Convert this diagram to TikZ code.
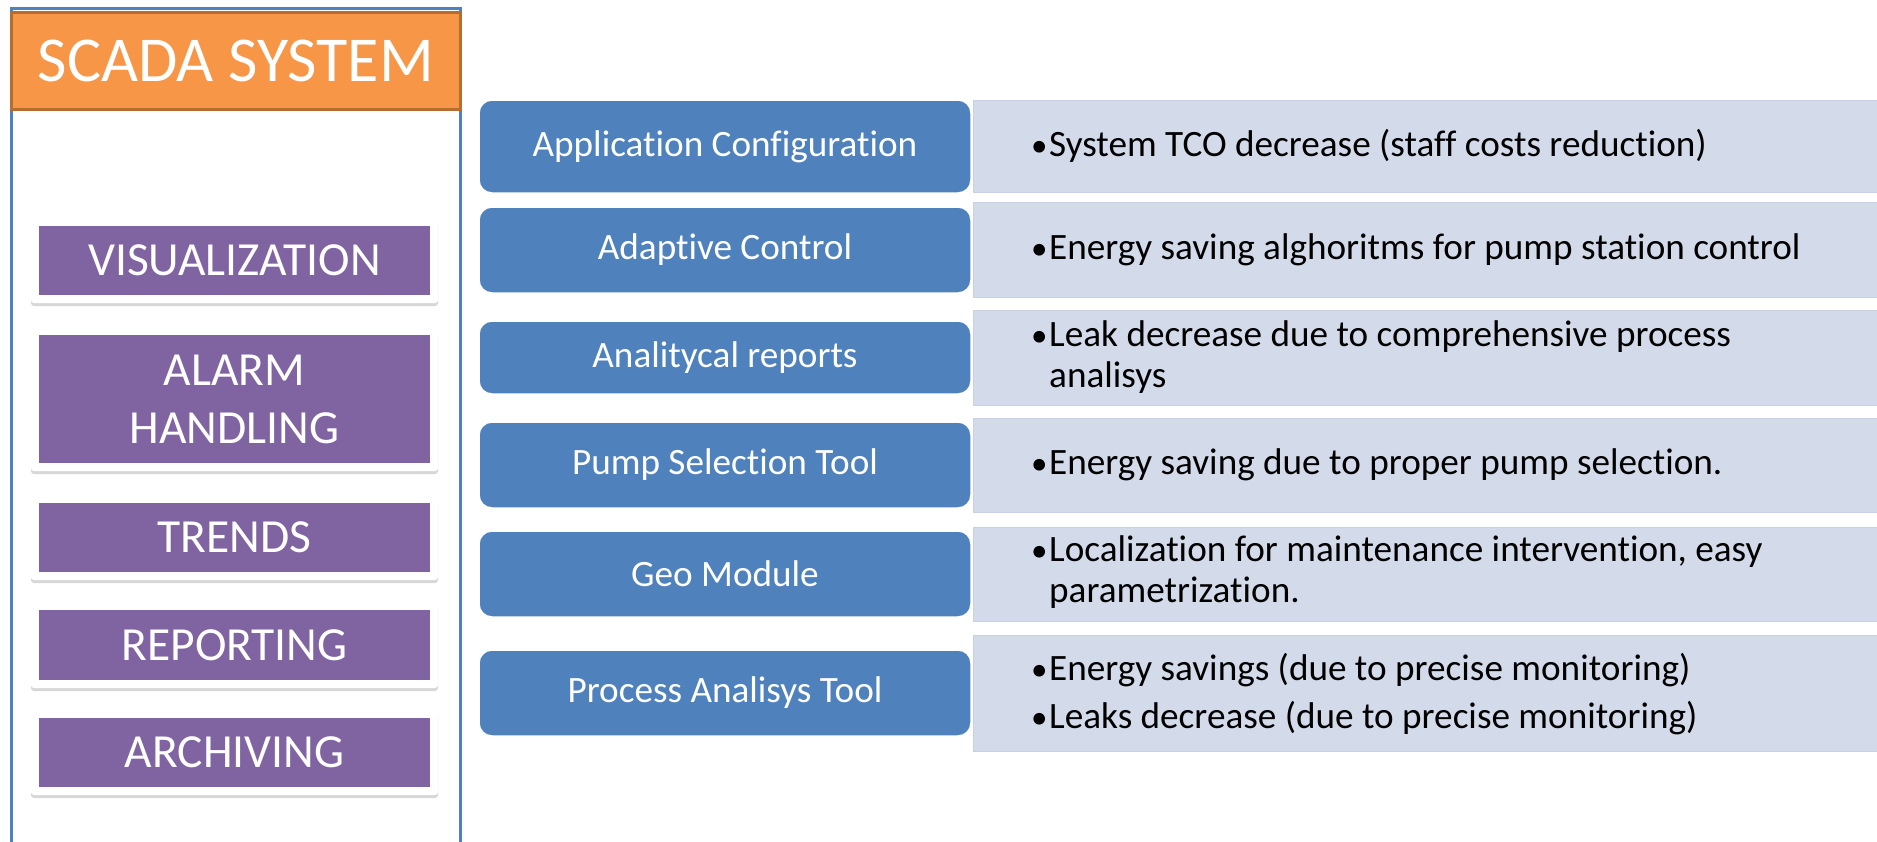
\documentclass[tikz,border=0pt]{standalone}
\usepackage{fontspec}
\setmainfont{Carlito}[Ligatures={CommonOff,ContextualOff,RequiredOff,RareOff,HistoricOff}]
\usetikzlibrary{shadows}
\definecolor{frameblue}{HTML}{4F81BD}
\definecolor{orangefill}{HTML}{F79646}
\definecolor{orangeedge}{HTML}{B66D31}
\definecolor{purplefill}{HTML}{8064A2}
\definecolor{boxblue}{HTML}{4F81BD}
\definecolor{graybox}{HTML}{D3DAE9}
\definecolor{grayedge}{HTML}{C8D0E2}
\tikzset{
  frameline/.style={draw=frameblue, line width=3pt},
  header/.style={rectangle, fill=orangefill, draw=orangeedge, line width=3pt, text=white,
    inner sep=0pt, minimum width=449pt, minimum height=97pt, font=\fontsize{64}{72}\selectfont},
  itemframe/.style={rectangle, fill=white, rounded corners=3pt, inner sep=0pt, minimum width=407pt,
    drop shadow={shadow xshift=0pt, shadow yshift=-3pt, opacity=0.22, fill=black!70}},
  itembox/.style={rectangle, fill=purplefill, text=white, inner sep=0pt, minimum width=391pt,
    align=center, font=\fontsize{47.5}{58}\selectfont},
  bluebox/.style={rectangle, rounded corners=13pt, fill=boxblue, draw=white, line width=1.5pt,
    text=white, inner sep=0pt, minimum width=492pt, font=\fontsize{37.2}{41}\selectfont},
  graybar/.style={rectangle, fill=graybox, draw=grayedge, line width=1pt, inner sep=0pt,
    minimum width=917pt},
  bullettext/.style={anchor=west, inner sep=0pt, align=left, text=black, font=\fontsize{37.2}{41}\selectfont}
}
\newcommand{\bul}{\makebox[18pt][l]{\fontsize{33}{33}\selectfont\textbullet}}
\newcommand{\ind}{\hspace*{18pt}}
\begin{document}
\begin{tikzpicture}[x=1pt,y=-1pt]
\useasboundingbox (0,0) rectangle (1877,841);
\clip (0,0) rectangle (1877,841);
\fill[white] (0,0) rectangle (1877,841);

% left panel frame
\draw[frameline] (11.5,8) rectangle (460,870);
\node[header] (title) at (236,61) {SCADA SYSTEM};

% item frames and boxes
\node[itemframe, minimum height=85pt] (visf) at (234.5,260.5) {};
\node[itembox, minimum height=69pt] (vis) at (234.5,260.5) {VISUALIZATION};
\node[itemframe, minimum height=144pt] (alarmf) at (234.5,399) {};
\node[itembox, minimum height=128pt] (alarm) at (234.5,399) {ALARM\\HANDLING};
\node[itemframe, minimum height=85pt] (trendsf) at (234.5,537.5) {};
\node[itembox, minimum height=69pt] (trends) at (234.5,537.5) {TRENDS};
\node[itemframe, minimum height=86pt] (repf) at (234.5,645) {};
\node[itembox, minimum height=70pt] (rep) at (234.5,645) {REPORTING};
\node[itemframe, minimum height=85pt] (archf) at (234.5,752.5) {};
\node[itembox, minimum height=69pt] (arch) at (234.5,752.5) {ARCHIVING};

% gray description bars
\node[graybar, minimum height=92pt] (g1) at (1431.5,146) {};
\node[graybar, minimum height=95pt] (g2) at (1431.5,249.5) {};
\node[graybar, minimum height=95pt] (g3) at (1431.5,357.5) {};
\node[graybar, minimum height=94pt] (g4) at (1431.5,465) {};
\node[graybar, minimum height=94pt] (g5) at (1431.5,574) {};
\node[graybar, minimum height=116pt] (g6) at (1431.5,693) {};

% blue boxes
\node[bluebox, minimum height=93pt] (b1) at (725,146.5) {Application Configuration};
\node[bluebox, minimum height=86pt] (b2) at (725,250) {Adaptive Control};
\node[bluebox, minimum height=73pt] (b3) at (725,357.5) {Analitycal reports};
\node[bluebox, minimum height=86pt] (b4) at (725,465) {Pump Selection Tool};
\node[bluebox, minimum height=86pt] (b5) at (725,574) {Geo Module};
\node[bluebox, minimum height=86pt] (b6) at (725,693) {Process Analisys Tool};

% bullet texts
\node[bullettext] (t1) at (1031,146) {\bul System TCO decrease (staff costs reduction)};
\node[bullettext] (t2) at (1031,250) {\bul Energy saving alghoritms for pump station control};
\node[bullettext] (t3) at (1031,357.5) {\bul Leak decrease due to comprehensive process\\\ind analisys};
\node[bullettext] (t4) at (1031,465) {\bul Energy saving due to proper pump selection.};
\node[bullettext] (t5) at (1031,572) {\bul Localization for maintenance intervention, easy\\\ind parametrization.};
\node[bullettext] (t6) at (1031,694) {\bul Energy savings (due to precise monitoring)\\[7pt]\bul Leaks decrease (due to precise monitoring)};
\end{tikzpicture}
\end{document}
